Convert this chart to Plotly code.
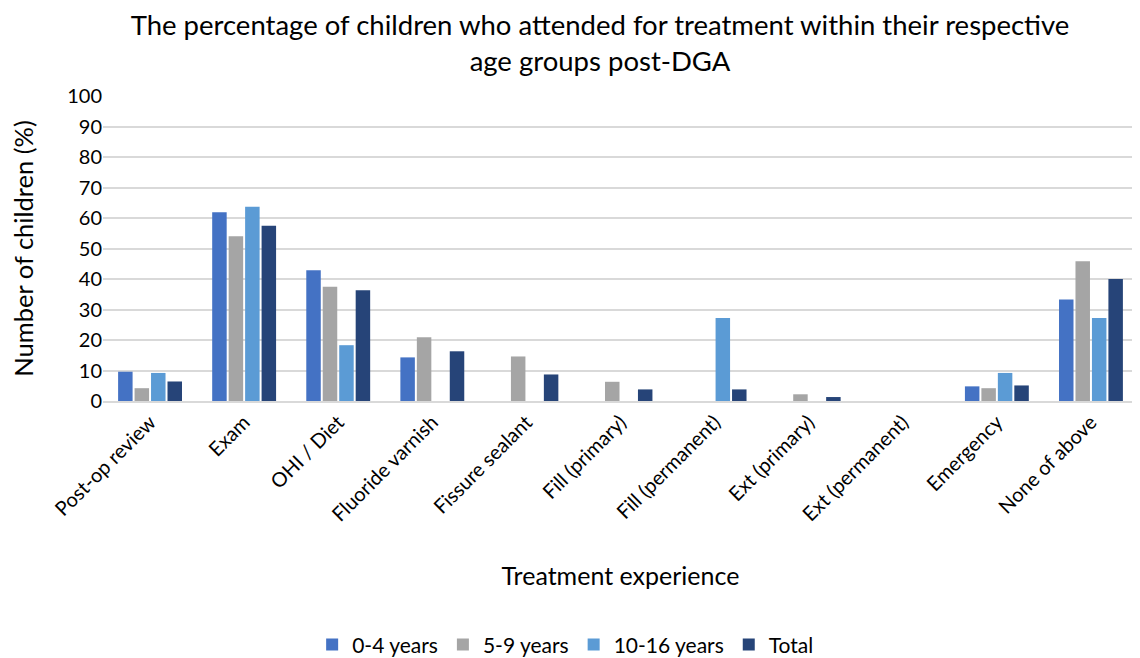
import plotly.graph_objects as go

categories = ["Post-op review", "Exam", "OHI / Diet", "Fluoride varnish", "Fissure sealant",
              "Fill (primary)", "Fill (permanent)", "Ext (primary)", "Ext (permanent)",
              "Emergency", "None of above"]
age_0_4 = [9.6, 61.9, 42.9, 14.3, 0, 0, 0, 0, 0, 4.8, 33.3]
age_5_9 = [4.2, 54.0, 37.5, 20.9, 14.6, 6.3, 0, 2.2, 0, 4.2, 45.8]
age_10_16 = [9.2, 63.7, 18.3, 0, 0, 0, 27.2, 0, 0, 9.2, 27.2]
total = [6.4, 57.5, 36.3, 16.3, 8.7, 3.8, 3.8, 1.3, 0, 5.1, 40.0]

series = [("0-4 years", age_0_4, "#4472C4"),
          ("5-9 years", age_5_9, "#A5A5A5"),
          ("10-16 years", age_10_16, "#5B9BD5"),
          ("Total", total, "#264478")]

font = "Lato, 'Open Sans', sans-serif"
fig = go.Figure()
for name, vals, col in series:
    fig.add_trace(go.Bar(x=categories, y=vals, name=name, marker_color=col,
                         marker_line_width=0))

W, H = 1132, 658
fig.update_layout(
    width=W, height=H,
    paper_bgcolor="white", plot_bgcolor="white",
    font=dict(family=font, size=20, color="#000000"),
    title=dict(text="The percentage of children who attended for treatment within their respective<br>age groups post-DGA",
               x=0.523, xanchor="center", y=0.959, yanchor="top",
               font=dict(size=27.5, color="#000000")),
    margin=dict(l=95, r=2, t=88, b=264),
    barmode="group", bargap=0.3, bargroupgap=0.12,
    legend=dict(orientation="h", x=0.447, xanchor="center", y=-0.794, yanchor="middle",
                font=dict(size=21), itemwidth=30, traceorder="normal"),
    xaxis=dict(tickangle=-45, tickfont=dict(size=20), showline=True, linecolor="#D9D9D9",
               linewidth=1.5,
               title=dict(text="Treatment experience", font=dict(size=25), standoff=43)),
    yaxis=dict(range=[0, 100], dtick=10, gridcolor="#D9D9D9", gridwidth=1.5,
               tickfont=dict(size=20), zeroline=False, ticks="", ticklen=0,
               title=dict(text="Number of children (%)", font=dict(size=25.5), standoff=27)),
)
fig.write_html("out.html")
